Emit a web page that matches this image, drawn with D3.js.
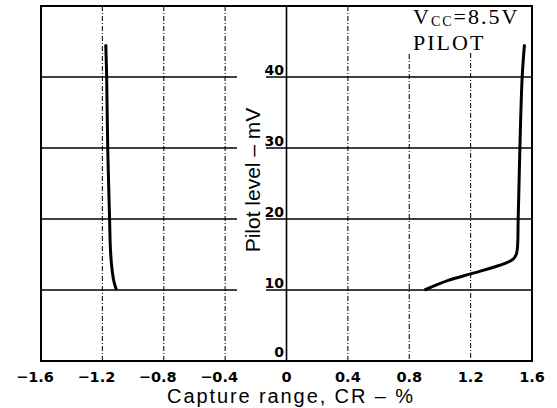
<!DOCTYPE html>
<html>
<head>
<meta charset="utf-8">
<script src="https://cdn.jsdelivr.net/npm/d3@7"></script>
<style>
  html, body { margin: 0; padding: 0; background: #fff; }
  svg { display: block; }
</style>
</head>
<body>
<svg id="chart" width="557" height="408"></svg>
<script>
// ---- data ----
const xTicks = [-1.6, -1.2, -0.8, -0.4, 0, 0.4, 0.8, 1.2, 1.6];
const xTickLabels = ["−1.6", "−1.2", "−0.8", "−0.4", "0", "0.4", "0.8", "1.2", "1.6"];
const yTicks = [0, 10, 20, 30, 40];
const yTickLabels = ["0", "10", "20", "30", "40"];
const leftCR = [-1.178, -1.172, -1.165, -1.153, -1.148, -1.140, -1.130, -1.120, -1.108];
const leftLevel = [44.6, 40, 30, 20, 16, 13.5, 11.8, 10.8, 10];
const rightCR = [1.551, 1.536, 1.521, 1.510, 1.500, 1.480, 1.420, 1.206, 1.054, 0.900];
const rightLevel = [44.6, 40, 30, 20, 15.2, 14.4, 13.7, 12.3, 11.35, 10];
const xTitle = "Capture range, CR – %";
const yTitle = "Pilot level – mV";

// ---- layout ----
const svg = d3.select("#chart");
const L = 41, R = 532, T = 6, B = 361;
const x = d3.scaleLinear().domain([-1.6, 1.6]).range([L, R]);
const y = d3.scaleLinear().domain([0, 50]).range([B, T]);

// vertical dash-dot grid lines
const vgrid = [-1.2, -0.8, -0.4, 0.4, 0.8, 1.2];
const vTop = {"0.8": 54, "1.2": 53};
svg.append("g").selectAll("line").data(vgrid).join("line")
  .attr("x1", d => x(d)).attr("x2", d => x(d))
  .attr("y1", d => vTop[String(d)] !== undefined ? vTop[String(d)] : T)
  .attr("y2", B)
  .attr("stroke", "#111").attr("stroke-width", 1.1)
  .attr("stroke-dasharray", "5,2,1,2");

// horizontal solid grid lines, broken for the y title
const hg = svg.append("g");
yTicks.filter(d => d > 0).forEach(d => {
  hg.append("line").attr("x1", L).attr("x2", 237).attr("y1", y(d)).attr("y2", y(d))
    .attr("stroke", "#000").attr("stroke-width", 1.3);
  hg.append("line").attr("x1", 266).attr("x2", R).attr("y1", y(d)).attr("y2", y(d))
    .attr("stroke", "#000").attr("stroke-width", 1.3);
});

// y axis line at x = 0
svg.append("line").attr("x1", x(0)).attr("x2", x(0)).attr("y1", T).attr("y2", B)
  .attr("stroke", "#000").attr("stroke-width", 1.6);

// frame
svg.append("rect").attr("x", L).attr("y", T).attr("width", R - L).attr("height", B - T)
  .attr("fill", "none").attr("stroke", "#000").attr("stroke-width", 2);

// curves
const line = d3.line().x(d => x(d[0])).y(d => y(d[1])).curve(d3.curveCatmullRom.alpha(0.5));
svg.append("path").datum(leftCR.map((v, i) => [v, leftLevel[i]]))
  .attr("d", line).attr("fill", "none").attr("stroke", "#000").attr("stroke-width", 3)
  .attr("stroke-linecap", "butt");
svg.append("path").datum(rightCR.map((v, i) => [v, rightLevel[i]]))
  .attr("d", line).attr("fill", "none").attr("stroke", "#000").attr("stroke-width", 3)
  .attr("stroke-linecap", "butt");

// x tick labels
svg.append("g").selectAll("text").data(xTicks).join("text")
  .attr("x", d => x(d) + (d < 0 ? -6 : 0))
  .attr("y", 382)
  .attr("text-anchor", "middle")
  .attr("font-family", "DejaVu Sans, sans-serif")
  .attr("font-weight", "bold")
  .attr("font-size", 14.5)
  .text((d, i) => xTickLabels[i]);

// y tick labels
svg.append("g").selectAll("text").data(yTicks).join("text")
  .attr("x", 284)
  .attr("y", d => d === 0 ? y(d) - 4 : y(d) - 2)
  .attr("text-anchor", "end")
  .attr("font-family", "DejaVu Sans, sans-serif")
  .attr("font-weight", "bold")
  .attr("font-size", 14)
  .text((d, i) => yTickLabels[i]);

// axis titles
svg.append("text").attr("x", 291).attr("y", 403).attr("text-anchor", "middle")
  .attr("font-family", "Liberation Sans, Arial, sans-serif").attr("font-size", 20)
  .attr("letter-spacing", 1.9)
  .text(xTitle);
svg.append("text").attr("transform", "translate(260,180) rotate(-90)")
  .attr("text-anchor", "middle")
  .attr("font-family", "Liberation Sans, Arial, sans-serif").attr("font-size", 21)
  .text(yTitle);

// annotation
const ann = svg.append("text").attr("x", 413).attr("y", 24)
  .attr("font-family", "Liberation Serif, Times New Roman, serif").attr("font-size", 22)
  .attr("letter-spacing", 2);
ann.append("tspan").text("V");
ann.append("tspan").attr("font-size", 14).attr("dy", 2).text("CC");
ann.append("tspan").attr("dy", -2).text("=8.5V");
svg.append("text").attr("x", 413).attr("y", 50)
  .attr("font-family", "Liberation Serif, Times New Roman, serif").attr("font-size", 22)
  .attr("letter-spacing", 2)
  .text("PILOT");
</script>
</body>
</html>
